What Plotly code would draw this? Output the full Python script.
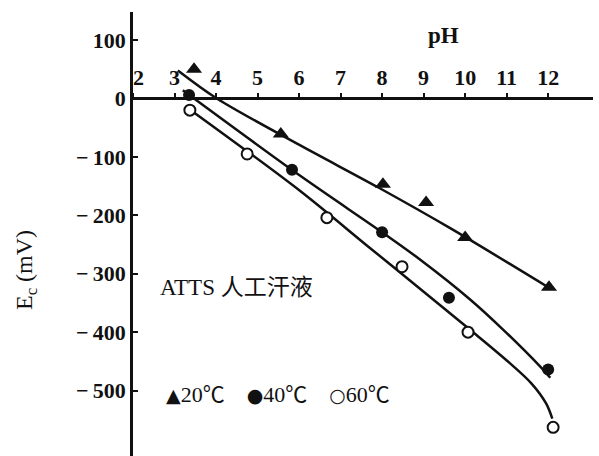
import plotly.graph_objects as go

# Measured corrosion potentials in ATTS artificial sweat
ph_20 = [3.47, 5.56, 8.02, 9.06, 10.0, 12.02]
ec_20 = [50, -61, -147, -178, -238, -323]
ph_40 = [3.35, 5.83, 8.0, 9.61, 12.0]
ec_40 = [6, -122, -229, -341, -464]
ph_60 = [3.37, 4.75, 6.67, 8.48, 10.07, 12.12]
ec_60 = [-20, -95, -204, -288, -400, -563]

# Smoothed trend curves through each series
curve_ph_20 = [3.08, 4.02, 6.02, 7.9, 9.64, 12.02]
curve_ec_20 = [48, 0, -80, -152, -222, -324]
curve_ph_40 = [3.2, 6.02, 8.0, 8.92, 10.12, 10.92, 11.81, 12.05]
curve_ec_40 = [14, -132, -229, -276, -344, -396, -459, -478]
curve_ph_60 = [3.45, 6.02, 7.64, 8.92, 10.12, 11.01, 11.6, 11.95, 12.1]
curve_ec_60 = [-23, -158, -252, -326, -396, -449, -488, -522, -548]

x_ticks = [2, 3, 4, 5, 6, 7, 8, 9, 10, 11, 12]
x_labels = ["\u00a0\u00a02", "3", "4", "5", "6", "7", "8", "9", "10", "11", "12"]
y_ticks = [100, 0, -100, -200, -300, -400, -500]
y_labels = ["100", "0", "\u2212\u2009100", "\u2212\u2009200", "\u2212\u2009300",
            "\u2212\u2009400", "\u2212\u2009500"]
legend_labels = ["20", "40", "60"]
legend_symbols = ["▲", "●", "○"]

X_RANGE = [2, 13.08]
Y_RANGE = [-612, 148]

SERIF = "Liberation Serif, Noto Sans CJK SC, serif"
SYMBOL_FONT = "DejaVu Sans"
CJK = "Noto Sans CJK SC"
INK = "#111111"

fig = go.Figure()

for cx, cy in [(curve_ph_20, curve_ec_20), (curve_ph_40, curve_ec_40),
               (curve_ph_60, curve_ec_60)]:
    fig.add_trace(go.Scatter(
        x=cx, y=cy, mode="lines",
        line=dict(color=INK, width=2.5, shape="spline", smoothing=0.9),
        showlegend=False, hoverinfo="skip"))

fig.add_trace(go.Scatter(
    x=ph_20, y=ec_20, mode="markers", name="20℃",
    marker=dict(symbol="triangle-up", size=14, color=INK),
    showlegend=False))
fig.add_trace(go.Scatter(
    x=ph_40, y=ec_40, mode="markers", name="40℃",
    marker=dict(symbol="circle", size=12, color=INK),
    showlegend=False))
fig.add_trace(go.Scatter(
    x=ph_60, y=ec_60, mode="markers", name="60℃",
    marker=dict(symbol="circle", size=11, color="white",
                line=dict(color=INK, width=2)),
    showlegend=False))

zero_pos = (0 - Y_RANGE[0]) / (Y_RANGE[1] - Y_RANGE[0])

fig.update_xaxes(
    range=X_RANGE, anchor="free", position=zero_pos, side="top",
    showline=True, linecolor=INK, linewidth=3,
    ticks="outside", ticklen=4, tickwidth=2, tickcolor=INK,
    tickvals=x_ticks, ticktext=x_labels,
    tickfont=dict(family=SERIF, size=22, color=INK, weight="bold"),
    showgrid=False, zeroline=False)

fig.update_yaxes(
    range=Y_RANGE,
    showline=True, linecolor=INK, linewidth=2.5,
    ticks="inside", ticklen=5, tickwidth=2, tickcolor=INK,
    tickvals=y_ticks, ticktext=y_labels,
    tickfont=dict(family=SERIF, size=22, color=INK, weight="bold"),
    showgrid=False, zeroline=False)

fig.add_annotation(x=9.47, y=108, text="pH", showarrow=False,
                   font=dict(family=SERIF, size=23, color=INK, weight="bold"))
fig.add_annotation(x=2.6, y=-323, xanchor="left", text="ATTS 人工汗液",
                   showarrow=False, font=dict(family=SERIF, size=23, color=INK))

legend_text = "\u2002\u2002".join(
    f"<span style='font-family:{SYMBOL_FONT};font-size:19px'>{s}</span>{t}"
    f"<span style='font-family:{CJK}'>℃</span>"
    for s, t in zip(legend_symbols, legend_labels))
fig.add_annotation(x=2.74, y=-503, xanchor="left", text=legend_text,
                   showarrow=False,
                   font=dict(family=SERIF, size=22, color=INK))
fig.add_annotation(xref="paper", x=-0.27, y=-294, text="E<sub>c</sub> (mV)",
                   textangle=-90, showarrow=False,
                   font=dict(family=SERIF, size=24, color=INK))

fig.update_layout(
    width=599, height=456,
    margin=dict(l=133, r=6, t=12, b=0),
    paper_bgcolor="white", plot_bgcolor="white")

fig.write_html("out.html")
